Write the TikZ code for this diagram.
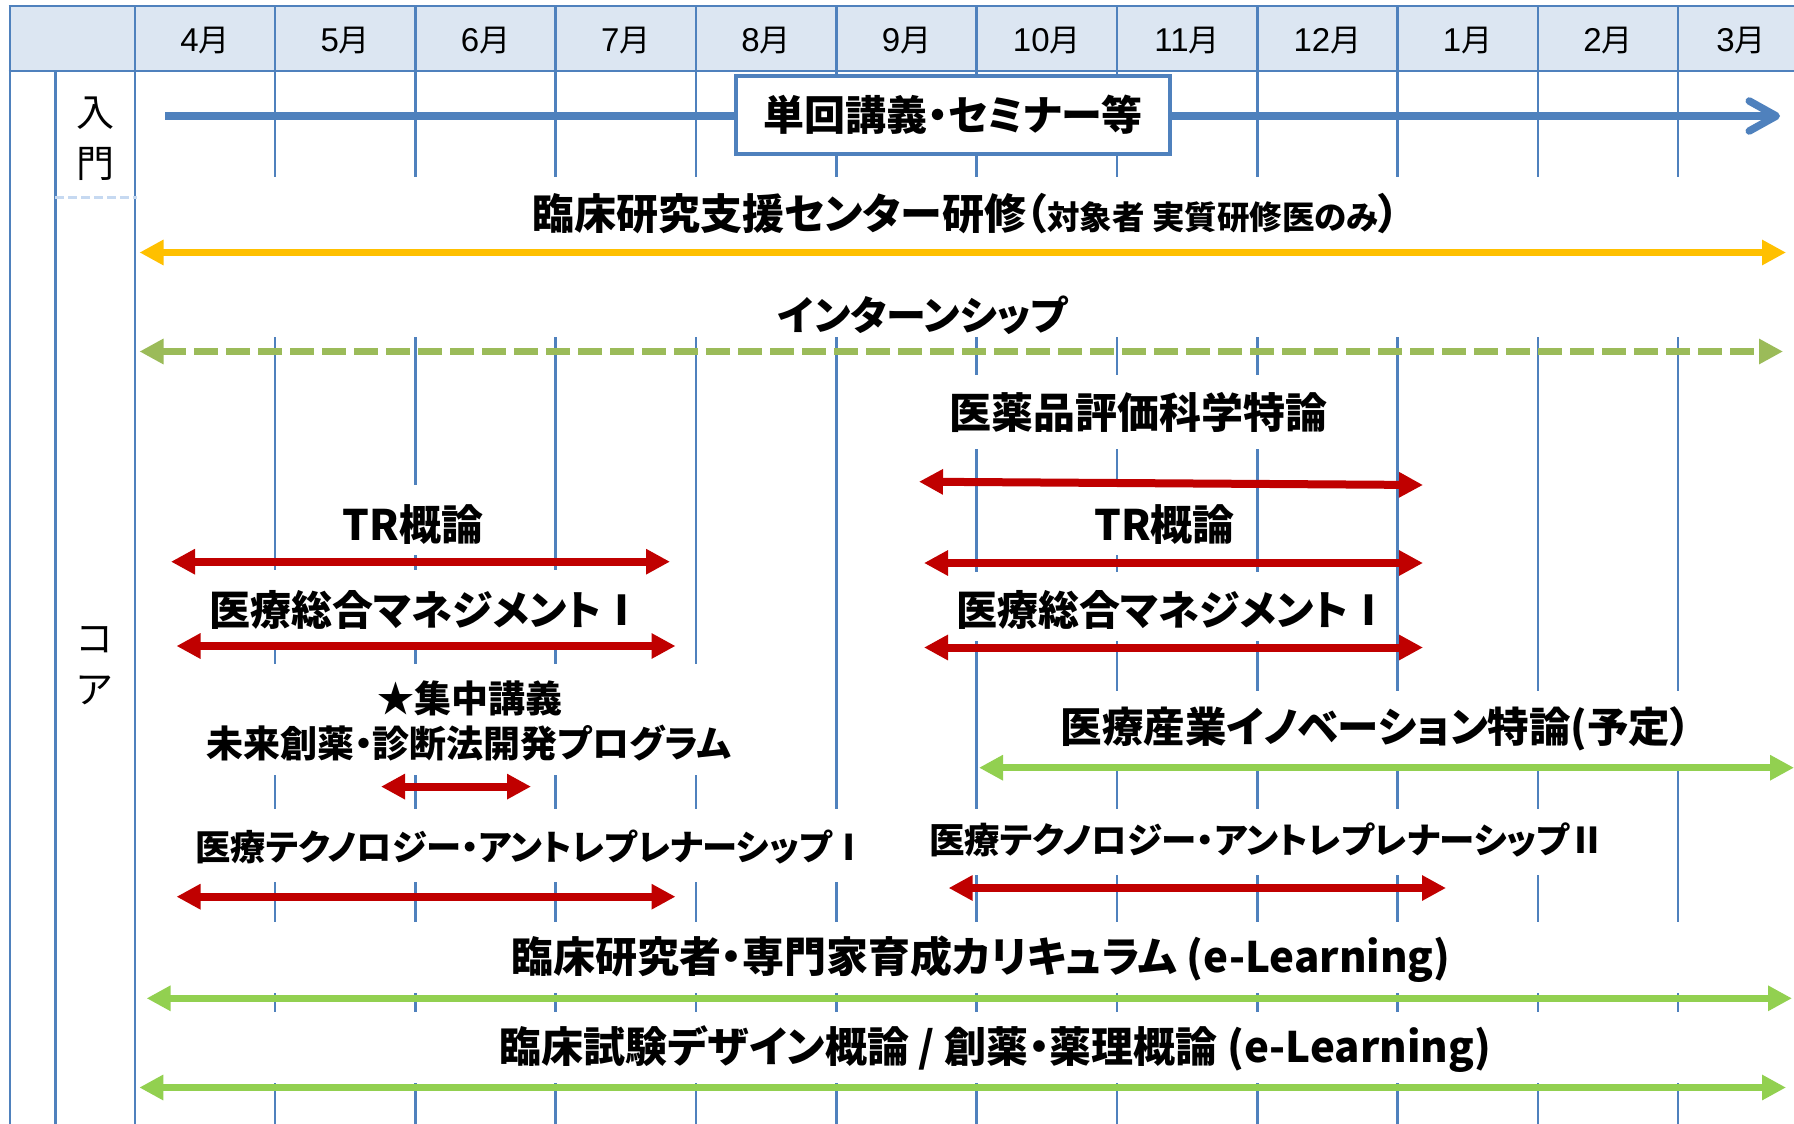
\documentclass[tikz,border=0pt]{standalone}
\usepackage{fontspec}
\setmainfont{Noto Sans CJK JP}[RawFeature={+palt}]
\newfontfamily\digitfont{Liberation Sans}
\usetikzlibrary{arrows.meta}
\definecolor{gridblue}{RGB}{79,129,189}
\definecolor{headfill}{RGB}{220,230,242}
\definecolor{sepblue}{RGB}{198,217,241}
\definecolor{arrorange}{RGB}{255,192,0}
\definecolor{arrolive}{RGB}{155,187,89}
\definecolor{arrgreen}{RGB}{146,208,80}
\definecolor{arrred}{RGB}{192,0,0}
\tikzset{
  tri/.tip={Triangle[length=24pt,width=24pt]},
  barb/.tip={Straight Barb[length=27pt,width=30pt,round]},
}
\begin{document}
\begin{tikzpicture}[x=1pt,y=-1pt,
  gridline/.style={draw=gridblue,line width=2.6pt},
  wbox/.style={fill=white},
  lbl/.style={inner sep=0pt,font=\bfseries\fontsize{42}{48}\selectfont},
  lblsm/.style={inner sep=0pt,font=\bfseries\fontsize{37}{44}\selectfont},
  monthlbl/.style={inner sep=0pt,font=\fontsize{31}{36}\selectfont},
  sidelbl/.style={inner sep=0pt,align=center,font=\fontsize{38}{51}\selectfont},
  redarr/.style={draw=arrred,line width=8pt,tri-tri},
  greenarr/.style={draw=arrgreen,line width=7.5pt,tri-tri},
  olivearr/.style={draw=arrolive,line width=7pt,dash pattern=on 24pt off 8pt,tri-tri},
  orangearr/.style={draw=arrorange,line width=7.7pt,tri-tri},
  bluearr/.style={draw=gridblue,line width=7.5pt,-barb},
  titlebox/.style={draw=gridblue,line width=3.5pt,fill=white,minimum width=434pt,minimum height=78pt,inner sep=0pt,font=\bfseries\fontsize{41}{48}\selectfont},
]
\useasboundingbox (0,0) rectangle (1794,1124);
\fill[white] (0,0) rectangle (1794,1124);
% header
\fill[headfill] (9.8,6) rectangle (1794,71);
% grid
\draw[gridline] (9.8,6) -- (9.8,1124);
\draw[gridline] (8.5,6) -- (1794,6);
\draw[gridline] (8.5,71) -- (1794,71);
\draw[gridline] (55.4,71) -- (55.4,1124);
\draw[gridline] (134.8,6) -- (134.8,1124);
\foreach \i in {1,...,11}{
  \draw[gridline] ({134.8+140.3*\i},6) -- ({134.8+140.3*\i},1124);
}
\draw[draw=sepblue,line width=3pt,dash pattern=on 9pt off 4pt] (55.4,197) -- (139,197);
% month labels
\foreach \m [count=\i from 0] in {4,5,6,7,8,9,10,11,12,1,2}{
  \node[monthlbl] (m\i) at ({134.8+140.3*\i+70.15},41) {{\digitfont\fontsize{33}{36}\selectfont\m}月};
}
\node[monthlbl] (m11) at (1741,41) {{\digitfont\fontsize{33}{36}\selectfont 3}月};
% side labels
\node[sidelbl] (nyumon) at (95,139) {入\\門};
\node[sidelbl] (core) at (95,666) {コ\\ア};
% white backgrounds of text boxes
\fill[wbox] (137,177) rectangle (1794,337);
\fill[wbox] (845,375) rectangle (1390,449);
\fill[wbox] (300,485) rectangle (530,555);
\fill[wbox] (1080,485) rectangle (1250,555);
\fill[wbox] (200,570) rectangle (640,642);
\fill[wbox] (950,572) rectangle (1390,641);
\fill[wbox] (200,664) rectangle (740,775);
\fill[wbox] (990,691) rectangle (1794,764);
\fill[wbox] (195,809) rectangle (865,882);
\fill[wbox] (925,809) rectangle (1610,875);
\fill[wbox] (137,922) rectangle (1794,993);
\fill[wbox] (137,1012) rectangle (1794,1083);
% arrow end points
\coordinate (bs) at (165,116);   \coordinate (be) at (1780,116);
\coordinate (os) at (139.5,252.5); \coordinate (oe) at (1786,252.5);
\coordinate (is) at (139.5,351.5); \coordinate (ie) at (1783,351.5);
\coordinate (ys) at (919,481.7);  \coordinate (ye) at (1423,485);
\coordinate (tls) at (171,561.7); \coordinate (tle) at (670,561.7);
\coordinate (trs) at (924,563);   \coordinate (tre) at (1423,563);
\coordinate (sls) at (176.5,646); \coordinate (sle) at (675.5,646);
\coordinate (srs) at (924,647.5); \coordinate (sre) at (1423,647.5);
\coordinate (ss) at (381,786.6);  \coordinate (se) at (531,786.6);
\coordinate (ps) at (979,767.7);  \coordinate (pe) at (1794,767.7);
\coordinate (t1s) at (176.5,896.7); \coordinate (t1e) at (675.5,896.7);
\coordinate (t2s) at (948.6,888); \coordinate (t2e) at (1446,888);
\coordinate (cs) at (146.6,998.3); \coordinate (ce) at (1792,998.3);
\coordinate (ds) at (139.3,1087.5); \coordinate (de) at (1786,1087.5);
% arrows
\draw[bluearr] (bs) -- (be);
\draw[orangearr] (os) -- (oe);
\draw[olivearr] (is) -- (ie);
\draw[redarr] (ys) -- (ye);
\draw[redarr] (tls) -- (tle);
\draw[redarr] (trs) -- (tre);
\draw[redarr] (sls) -- (sle);
\draw[redarr] (srs) -- (sre);
\draw[redarr] (ss) -- (se);
\draw[greenarr] (ps) -- (pe);
\draw[redarr] (t1s) -- (t1e);
\draw[redarr] (t2s) -- (t2e);
\draw[greenarr] (cs) -- (ce);
\draw[greenarr] (ds) -- (de);
% labels
\node[titlebox] (tan) at (953,115) {単回講義・セミナー等};
\node[lbl] (rin) at (966,214) {臨床研究支援センター研修（{\fontsize{32.5}{36}\selectfont 対象者 実質研修医のみ}）};
\node[lbl,font=\bfseries\fontsize{40}{48}\selectfont] (int) at (923,315) {インターンシップ};
\node[lbl] (iya) at (1138,412) {医薬品評価科学特論};
\node[lbl] (trl) at (413,525) {TR概論};
\node[lbl] (trr) at (1164.5,525) {TR概論};
\node[lbl,font=\bfseries\fontsize{41}{48}\selectfont] (sgl) at (426,610) {医療総合マネジメントⅠ};
\node[lbl,font=\bfseries\fontsize{41}{48}\selectfont] (sgr) at (1173,610) {医療総合マネジメントⅠ};
\node[lblsm] (star) at (470,698) {★集中講義};
\node[lblsm] (mir) at (469,743) {未来創薬・診断法開発プログラム};
\node[lbl,font=\bfseries\fontsize{41.5}{48}\selectfont] (sang) at (1376,729) {医療産業イノベーション特論(予定）};
\node[lblsm,font=\bfseries\fontsize{35.3}{44}\selectfont] (tech1) at (531,847) {医療テクノロジー・アントレプレナーシップⅠ};
\node[lblsm,font=\bfseries\fontsize{35.5}{44}\selectfont] (tech2) at (1267,840) {医療テクノロジー・アントレプレナーシップⅡ};
\node[lbl] (cur) at (981,959) {臨床研究者・専門家育成カリキュラム (e-Learning)};
\node[lbl] (des) at (995.5,1049) {臨床試験デザイン概論 / 創薬・薬理概論 (e-Learning)};
\end{tikzpicture}
\end{document}
